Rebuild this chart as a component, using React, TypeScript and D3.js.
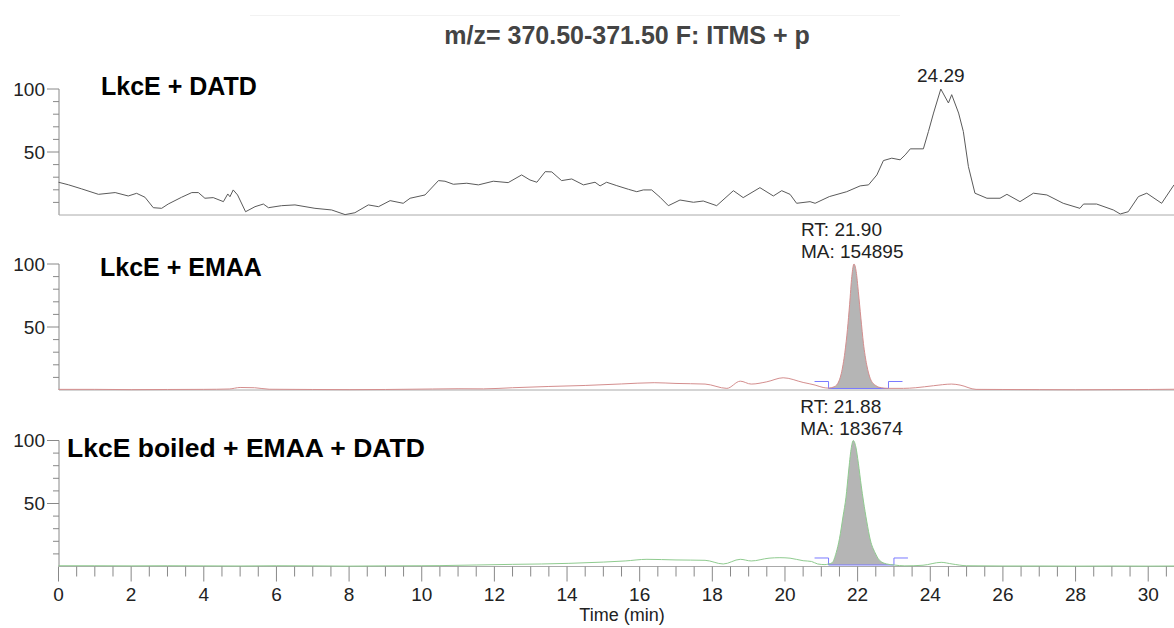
import React from "react";
import * as d3 from "d3";

// ---------- data ----------
const timeDomain = [0, 30.71];
const xTickLabels = [0, 2, 4, 6, 8, 10, 12, 14, 16, 18, 20, 22, 24, 26, 28, 30];
const yTickLabels = [50, 100];

const panelLabels = ["LkcE + DATD", "LkcE + EMAA", "LkcE boiled + EMAA + DATD"];

const datdTime = [0, 0.27, 0.64, 1.1, 1.56, 1.92, 2.15, 2.38, 2.61, 2.84, 3.02, 3.39, 3.67, 3.85, 4.03, 4.26, 4.54, 4.66, 4.72, 4.81, 4.93, 5.15, 5.41, 5.64, 5.78, 6.14, 6.51, 7.06, 7.52, 7.89, 8.16, 8.53, 8.81, 9.13, 9.49, 9.68, 10.09, 10.46, 10.64, 10.87, 11.24, 11.56, 11.97, 12.38, 12.75, 12.98, 13.17, 13.4, 13.58, 13.85, 14.13, 14.45, 14.77, 14.91, 15.09, 15.37, 15.69, 15.92, 16.1, 16.33, 16.56, 16.79, 17.11, 17.48, 17.75, 18.12, 18.58, 18.85, 19.31, 19.68, 19.91, 20.14, 20.32, 20.69, 20.83, 21.22, 21.7, 22.07, 22.3, 22.53, 22.71, 22.94, 23.17, 23.31, 23.45, 23.81, 23.95, 24.09, 24.29, 24.5, 24.59, 24.78, 24.91, 25.05, 25.23, 25.56, 25.92, 26.11, 26.47, 26.84, 27.21, 27.66, 28.12, 28.22, 28.58, 29.04, 29.23, 29.45, 29.73, 29.96, 30.37, 30.71];
const datdValue = [26, 24, 20.7, 16.4, 17.8, 15.1, 17.2, 14.1, 5.8, 5.3, 8.7, 14.1, 17.8, 17.8, 13.3, 13.8, 10.6, 16.7, 14.5, 19.9, 15.9, 2.6, 6.6, 8.7, 5.8, 7.4, 8.0, 5.3, 4.0, 0.3, 1.8, 8.0, 6.6, 11.4, 9.3, 13.3, 15.9, 27.3, 26.8, 24.4, 25.2, 23.9, 26.8, 25.7, 31.8, 27.8, 26.0, 34.4, 34.2, 27.3, 28.6, 23.9, 26.0, 23.1, 26.0, 23.3, 20.4, 18.5, 19.9, 19.9, 14.1, 7.4, 11.9, 10.1, 11.1, 7.4, 19.3, 13.8, 21.7, 15.1, 19.3, 16.4, 9.3, 10.6, 9.3, 14.6, 18.5, 23.1, 23.9, 31.8, 43.2, 45.1, 43.8, 47.7, 52.5, 52.5, 66.3, 80.9, 100, 88.9, 95.5, 80.9, 66.3, 38.4, 17.3, 13.3, 13.3, 16.4, 10.6, 17.3, 15.9, 9.3, 5.3, 8.7, 8.7, 4.0, 0.8, 2.6, 14.6, 17.3, 9.3, 23.9];

const emaaTime = [0, 1, 2, 3, 4, 4.7, 5.0, 5.4, 5.8, 7, 8, 9, 10.3, 11, 11.7, 12.5, 13.5, 14.5, 15.5, 16.4, 17.0, 17.8, 18.4, 18.77, 19.07, 19.5, 19.95, 20.5, 20.83, 21.05, 21.2, 21.35, 21.45, 21.55, 21.65, 21.72, 21.78, 21.84, 21.9, 21.96, 22.02, 22.09, 22.16, 22.25, 22.35, 22.5, 22.65, 22.85, 23.26, 23.6, 24.09, 24.59, 24.82, 25.26, 26, 27, 28, 29, 30, 30.71];
const emaaValue = [0.5, 0.5, 0.3, 0.4, 0.5, 0.8, 2.0, 1.8, 0.6, 0.4, 0.3, 0.4, 0.8, 1.0, 0.9, 1.8, 2.8, 3.6, 4.8, 5.8, 5.2, 4.7, 1.3, 7.0, 4.7, 6.5, 9.7, 6.0, 3.9, 2.0, 1.5, 2.5, 5, 13, 30, 48, 68, 90, 100, 94, 78, 57, 37, 20, 9, 3.5, 1.8, 1.3, 1.3, 1.8, 3.4, 4.7, 3.9, 0.5, 0.4, 0.3, 0.2, 0.3, 0.4, 0.6];

const boiledTime = [0, 1, 2, 3, 4, 5, 6, 7, 8, 9, 10, 10.5, 11.5, 12.5, 13.3, 14.05, 15, 15.6, 16.2, 17.0, 17.8, 18.3, 18.77, 19.07, 19.56, 19.86, 20.14, 20.5, 20.73, 20.9, 21.1, 21.2, 21.3, 21.41, 21.5, 21.6, 21.68, 21.75, 21.82, 21.88, 21.95, 22.02, 22.1, 22.16, 22.25, 22.35, 22.48, 22.6, 22.8, 23.0, 23.3, 23.8, 24.3, 24.6, 25, 26, 27, 28, 29, 30, 30.71];
const boiledValue = [0.6, 0.6, 0.5, 0.6, 0.5, 0.4, 0.6, 0.5, 0.3, 0.5, 0.6, 0.7, 1.2, 1.7, 2.0, 2.5, 3.5, 4.4, 5.7, 5.2, 4.9, 2.0, 5.7, 4.4, 6.6, 7.0, 6.6, 4.6, 4.0, 2.0, 1.5, 2, 3, 11, 22, 40, 55, 75, 93, 100, 95, 82, 64, 52, 36, 21, 11, 5, 2, 1.2, 0.5, 1.0, 3.3, 2.0, 0.6, 0.4, 0.4, 0.3, 0.4, 0.3, 0.4];

const peakLabels = [["24.29"], ["RT: 21.90", "MA: 154895"], ["RT: 21.88", "MA: 183674"]];
const peakLabelTime = [24.29, 21.9, 21.88];
const integStart = [21.2, 21.2];
const integEnd = [22.85, 23.0];
const integBase = 1.2;

const title = "m/z= 370.50-371.50 F: ITMS + p";
const xTitle = "Time (min)";

// ---------- layout ----------
const W = 1174;
const H = 628;
const panelBase = [215, 390, 566.5];
const panelH = 126;
const lineColors = ["#5a5a5a", "#d48e8e", "#8fcb8f"];
const labelSizes = [25, 25, 26.5];
const labelX = [101, 100, 67];
const labelY = [95, 276, 457];
const FONT = "'Liberation Sans', Arial, Helvetica, sans-serif";

export default function App() {
  const x = d3.scaleLinear().domain(timeDomain).range([58.5, W]);
  const ys = panelBase.map((b) => d3.scaleLinear().domain([0, 100]).range([b, b - panelH]));
  const series = [
    datdTime.map((t, i) => [t, datdValue[i]]),
    emaaTime.map((t, i) => [t, emaaValue[i]]),
    boiledTime.map((t, i) => [t, boiledValue[i]]),
  ];
  const yMinor = d3.range(10, 101, 10);
  const xMinor = d3.range(0, 30.51, 0.5);

  return (
    <svg width={W} height={H} style={{ position: "absolute", left: 0, top: 0, background: "#fff" }} fontFamily={FONT}>
      <line x1={250} x2={900} y1={15.5} y2={15.5} stroke="#f2f2f2" />
      <text x={627} y={44} textAnchor="middle" fontWeight="bold" fontSize={25} fill="#444">{title}</text>

      {series.map((data, p) => {
        const y = ys[p];
        const line = d3.line().x((d) => x(d[0])).y((d) => y(d[1]))
          .curve(p === 0 ? d3.curveLinear : d3.curveMonotoneX);
        let fill = null;
        if (p > 0) {
          const s = integStart[p - 1];
          const e = integEnd[p - 1];
          const pts = data.filter((d) => d[0] >= s && d[0] <= e);
          const area = d3.area().x((d) => x(d[0])).y0(y(integBase)).y1((d) => y(d[1])).curve(d3.curveMonotoneX);
          const xs = x(s), xe = x(e), yb = y(integBase);
          fill = (
            <g>
              <path d={area(pts) || ""} fill="#b5b5b5" />
              <path d={`M${xs - 14},${yb - 7}H${xs}V${yb}H${xe}V${yb - 7}H${xe + 14}`} fill="none" stroke="#7a7aff" strokeWidth={1} />
            </g>
          );
        }
        return (
          <g key={p}>
            <line x1={59} x2={59} y1={y(100)} y2={y(0)} stroke="#888" />
            {yMinor.map((v) => (
              <line key={v} x1={v % 50 === 0 ? 47 : 53} x2={59} y1={y(v)} y2={y(v)} stroke="#888" />
            ))}
            {yTickLabels.map((v) => (
              <text key={v} x={45} y={y(v)} dy="0.36em" textAnchor="end" fontSize={19} fill="#222">{v}</text>
            ))}
            <line x1={59} x2={W} y1={y(0)} y2={y(0)} stroke="#aaa" />
            {fill}
            <path d={line(data) || ""} fill="none" stroke={lineColors[p]} strokeWidth={1} />
            <text x={labelX[p]} y={labelY[p]} fontWeight="bold" fontSize={labelSizes[p]} fill="#000">{panelLabels[p]}</text>
            {peakLabels[p].map((s, i) => (
              p === 0
                ? <text key={i} x={x(peakLabelTime[p])} y={y(100) - 7} textAnchor="middle" fontSize={19} fill="#222">{s}</text>
                : <text key={i} x={x(peakLabelTime[p]) - 53} y={y(100) - 28 + i * 22} fontSize={19} fill="#222">{s}</text>
            ))}
          </g>
        );
      })}

      {xMinor.map((t) => (
        <line key={t} x1={x(t)} x2={x(t)} y1={panelBase[2]} y2={panelBase[2] + (t % 2 === 0 ? 15 : 10)} stroke="#888" />
      ))}
      {xTickLabels.map((t) => (
        <text key={t} x={x(t)} y={601} textAnchor="middle" fontSize={19} fill="#222">{t}</text>
      ))}
      <text x={622} y={621} textAnchor="middle" fontSize={18} fill="#222">{xTitle}</text>
    </svg>
  );
}
